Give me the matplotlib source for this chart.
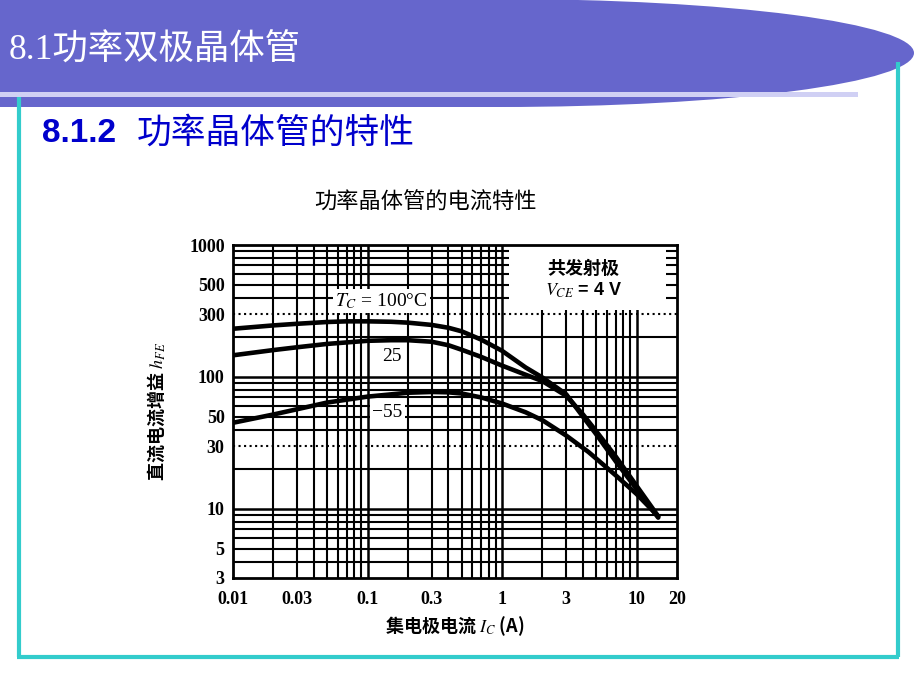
import numpy as np
import matplotlib
matplotlib.use("Agg")
import matplotlib.pyplot as plt
from matplotlib.patches import Ellipse, Rectangle

plt.rcParams['mathtext.fontset'] = 'stix'

# ---------------- data ----------------
i_100 = [0.01, 0.02, 0.03, 0.05, 0.07, 0.1, 0.15, 0.2, 0.3, 0.4, 0.5, 0.7, 1, 1.5, 2, 3, 4, 5, 7, 10, 14.5]
h_100 = [232, 246, 253, 261, 264, 264, 262, 258, 248, 236, 222, 192, 158, 118, 99, 74, 50, 37, 23, 14.2, 8.6]

i_25 = [0.01, 0.02, 0.03, 0.05, 0.1, 0.15, 0.2, 0.3, 0.4, 0.5, 0.7, 1, 1.5, 2, 3, 4, 5, 7, 10, 14.5]
h_25 = [146, 160, 168, 178, 188, 190, 190, 185, 174, 161, 142, 122, 104, 93, 72, 52, 39, 25, 15, 8.8]

i_m55 = [0.01, 0.02, 0.03, 0.05, 0.1, 0.2, 0.3, 0.4, 0.5, 0.7, 1, 1.5, 2, 3, 4.4, 7, 10, 14.5]
h_m55 = [45, 52, 57, 64, 71, 76, 77, 76.5, 75, 70, 63, 54, 47, 36, 27, 18, 13, 8.8]

x_ticks = [0.01, 0.03, 0.1, 0.3, 1, 3, 10, 20]
x_ticklabels = ['0.01', '0.03', '0.1', '0.3', '1', '3', '10', '20']
y_ticks = [3, 5, 10, 30, 50, 100, 300, 500, 1000]
y_ticklabels = ['3', '5', '10', '30', '50', '100', '300', '500', '1000']

slide_title = '8.1功率双极晶体管'
section_num = '8.1.2'
section_title = '功率晶体管的特性'
chart_title = '功率晶体管的电流特性'

CJK = 'Noto Sans CJK SC'
SERIF = ['Liberation Serif', CJK]
SANS = ['Liberation Sans', CJK]

fig = plt.figure(figsize=(9.2, 6.9), dpi=100)

# ---------------- slide background ----------------
bg = fig.add_axes([0, 0, 1, 1])
bg.set_xlim(0, 920)
bg.set_ylim(690, 0)
bg.axis('off')

purple = '#6666CC'
bg.add_patch(Rectangle((0, -2), 500, 109, color=purple, lw=0))
bg.add_patch(Ellipse((500, 53), 828, 108, color=purple, lw=0))
bg.add_patch(Rectangle((0, 92), 858, 5, color='#D0D0F4', lw=0))

teal = '#33CCCC'
bg.plot([19, 19], [97, 657], color=teal, lw=3, solid_capstyle='butt')
bg.plot([17.5, 899.5], [657, 657], color=teal, lw=3, solid_capstyle='butt')
bg.plot([898, 898], [62, 657], color=teal, lw=3, solid_capstyle='butt')

bg.text(9, 51, slide_title, color='white', fontsize=25.5, family=SERIF,
        ha='left', va='center')
bg.text(42, 133, section_num, color='#0000CC', fontsize=24, family=SANS,
        fontweight='bold', ha='left', va='center')
bg.text(137, 133, section_title, color='#0000CC', fontsize=25, family=SANS,
        fontweight='medium', ha='left', va='center')
bg.text(425, 203, chart_title, color='black', fontsize=16, family=SANS,
        ha='center', va='center')

# ---------------- chart ----------------
ax = fig.add_axes([233 / 920, 1 - 578 / 690, 444 / 920, 333 / 690])
ax.set_xscale('log')
ax.set_yscale('log')
ax.set_xlim(0.01, 20)
ax.set_ylim(3, 1000)

# grid lines (log grid, black, scanned-paper look)
for e in range(-2, 2):
    for k in range(1, 10):
        v = k * 10.0 ** e
        if 0.01 < v < 20:
            ax.axvline(v, color='black', lw=1.8 if k == 1 else 1.5, zorder=1)
for e in range(0, 4):
    for k in range(1, 10):
        v = k * 10.0 ** e
        if 3 < v < 1000:
            ls = ':' if k == 3 else '-'
            ax.axhline(v, color='black', lw=1.8 if k == 1 else 1.5, ls=ls, zorder=1)

# white box for the condition note
ax.add_patch(Rectangle((1.13, 322), 16.7 - 1.13, 1000 - 322, facecolor='white',
                       edgecolor='none', zorder=2))
ax.text(4.05, 665, '共发射极', family=[CJK], fontweight='bold', fontsize=13,
        ha='center', va='center', zorder=3)
ax.text(4.05, 455, r'$V_{CE}$ = 4 V', family=['Liberation Sans'], fontweight='bold',
        fontsize=13, ha='center', va='center', zorder=3)

ax.plot(i_100, h_100, color='black', lw=3.3, zorder=4, solid_capstyle='round', solid_joinstyle='round')
ax.plot(i_25, h_25, color='black', lw=3.3, zorder=4, solid_capstyle='round', solid_joinstyle='round')
ax.plot(i_m55, h_m55, color='black', lw=3.3, zorder=4, solid_capstyle='round', solid_joinstyle='round')

box = dict(facecolor='white', edgecolor='none', pad=1.5)
ax.text(0.127, 377, r'$T_C$ = 100°C', family=['Liberation Serif'], fontsize=14,
        ha='center', va='center', bbox=box, zorder=5)
ax.text(0.151, 143, '25', family=['Liberation Serif'], fontsize=14,
        ha='center', va='center', bbox=box, zorder=5)
ax.text(0.141, 54, '−55', family=['Liberation Serif'], fontsize=14,
        ha='center', va='center', bbox=box, zorder=5)

ax.set_xticks(x_ticks)
ax.set_xticklabels(x_ticklabels)
ax.set_yticks(y_ticks)
ax.set_yticklabels(y_ticklabels)
ax.minorticks_off()
ax.tick_params(axis='x', length=0, pad=9)
ax.tick_params(axis='y', length=0, pad=6)
for lab in ax.get_xticklabels() + ax.get_yticklabels():
    lab.set_fontfamily('Liberation Serif')
    lab.set_fontweight('bold')
    lab.set_fontsize(13)

for s in ax.spines.values():
    s.set_linewidth(2.0)
    s.set_color('black')
    s.set_zorder(6)

ax.set_xlabel(r'集电极电流 $I_C$ (A)', family=[CJK], fontweight='bold',
              fontsize=13, labelpad=5)
ax.set_ylabel(r'直流电流增益 $h_{FE}$', family=[CJK], fontweight='bold',
              fontsize=13, labelpad=16)

fig.savefig('out.png', dpi=100)
